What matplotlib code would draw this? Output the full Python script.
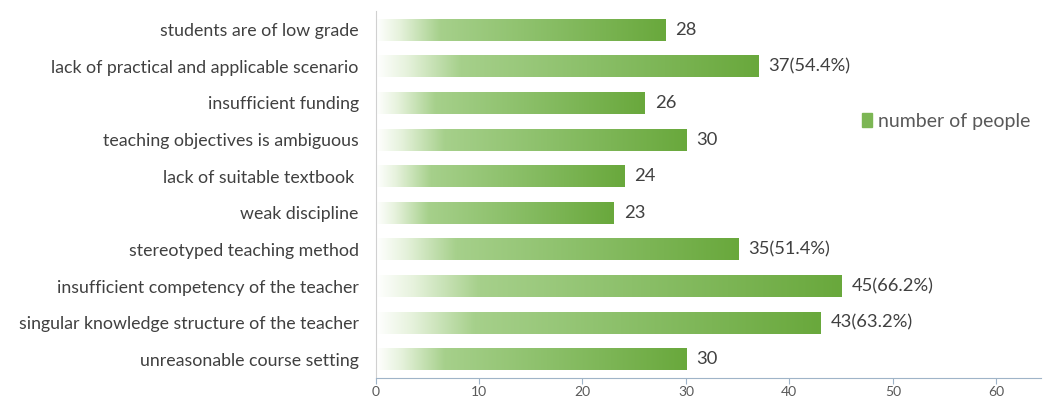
import matplotlib.pyplot as plt
import numpy as np
from matplotlib.colors import LinearSegmentedColormap
from matplotlib.patches import Patch

plt.rcParams['font.family'] = ['Lato', 'DejaVu Sans']

categories = ['students are of low grade',
              'lack of practical and applicable scenario',
              'insufficient funding',
              'teaching objectives is ambiguous',
              'lack of suitable textbook ',
              'weak discipline',
              'stereotyped teaching method',
              'insufficient competency of the teacher',
              'singular knowledge structure of the teacher',
              'unreasonable course setting']
values = [28, 37, 26, 30, 24, 23, 35, 45, 43, 30]
labels = ['28', '37(54.4%)', '26', '30', '24', '23', '35(51.4%)', '45(66.2%)', '43(63.2%)', '30']
xticks = [0, 10, 20, 30, 40, 50, 60]

green = LinearSegmentedColormap.from_list(
    'g', [(0, '#ffffff'), (0.08, '#e6f2dc'), (0.22, '#a6d08b'), (0.55, '#8cc06a'), (1, '#69a83c')])

fig = plt.figure(figsize=(10.46, 4.01), dpi=100)
ax = fig.add_axes([0.359, 0.058, 0.636, 0.914])

y = np.arange(len(categories))
bars = ax.barh(y, values, height=0.6, color='none', edgecolor='none')
grad = np.linspace(0, 1, 256).reshape(1, -1)
for b in bars:
    x0, y0 = b.get_x(), b.get_y()
    im = ax.imshow(grad, cmap=green, aspect='auto', interpolation='bicubic',
                   extent=[x0, x0 + b.get_width(), y0, y0 + b.get_height()], zorder=2)
    im.set_clip_path(b)

for yi, v, lab in zip(y, values, labels):
    ax.text(v + 1.0, yi, lab, va='center', ha='left', fontsize=13.2, color='#404040')

ax.set_ylim(len(categories) - 0.5, -0.5)
ax.set_xlim(0, 64.3)
ax.set_yticks(y)
ax.set_yticklabels(categories, fontsize=12.8, color='#404040')
ax.set_xticks(xticks)
ax.set_xticklabels([str(t) for t in xticks], fontsize=10, color='#595959')
ax.tick_params(axis='y', length=0, pad=12)
ax.tick_params(axis='x', length=4, color='#9fb4c8', direction='out', pad=2)

for s in ['top', 'right']:
    ax.spines[s].set_visible(False)
ax.spines['left'].set_color('#d0d0d0')
ax.spines['bottom'].set_color('#9fb4c8')

fig.legend(handles=[Patch(color='#7cb654', label='number of people')],
           loc='center left', bbox_to_anchor=(0.824, 0.698), frameon=False,
           borderpad=0, borderaxespad=0,
           fontsize=14, labelcolor='#595959', handlelength=0.5, handleheight=0.8,
           handletextpad=0.35)

plt.savefig('out.png', dpi=100)
